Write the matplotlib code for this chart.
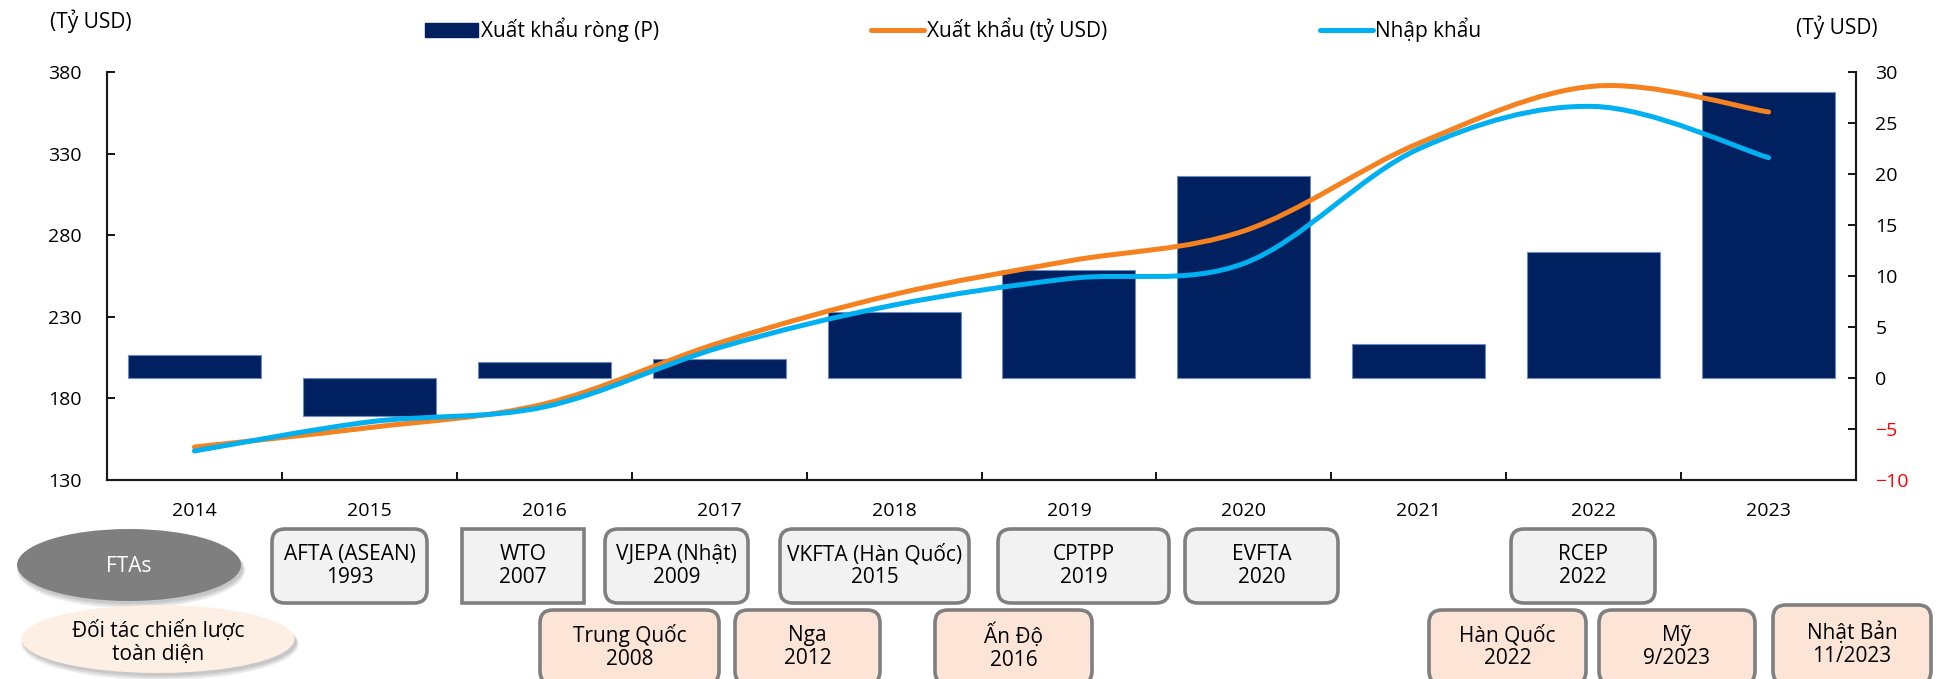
import numpy as np
import matplotlib
matplotlib.use("Agg")
import matplotlib.pyplot as plt
from matplotlib.path import Path
from matplotlib.patches import PathPatch, FancyBboxPatch, Ellipse, Patch
from matplotlib.lines import Line2D

plt.rcParams['font.family'] = ['Open Sans', 'DejaVu Sans']

# data
years = ['2014', '2015', '2016', '2017', '2018', '2019', '2020', '2021', '2022', '2023']
net_export = [2.3, -3.7, 1.6, 1.9, 6.5, 10.6, 19.8, 3.3, 12.4, 28.0]
export = [150.2, 162.1, 176.6, 214.0, 243.7, 264.2, 282.6, 336.3, 371.3, 355.5]
imports = [147.8, 165.6, 174.8, 211.1, 237.2, 253.4, 262.7, 332.9, 358.9, 327.5]

left_ticks = [130, 180, 230, 280, 330, 380]
right_ticks = [-10, -5, 0, 5, 10, 15, 20, 25, 30]

fta_labels = ['AFTA (ASEAN)\n1993', 'WTO\n2007', 'VJEPA (Nhật)\n2009', 'VKFTA (Hàn Quốc)\n2015',
              'CPTPP\n2019', 'EVFTA\n2020', 'RCEP\n2022']
partner_labels = ['Trung Quốc\n2008', 'Nga\n2012', 'Ấn Độ\n2016', 'Hàn Quốc\n2022',
                  'Mỹ\n9/2023', 'Nhật Bản\n11/2023']

navy = '#002060'
orange = '#F5821F'
cyan = '#00B0F0'

W, H = 1941, 679
fig = plt.figure(figsize=(W / 100, H / 100), dpi=100)

# axis box in pixels: x 107..1856, y 72..480
ax = fig.add_axes([107 / W, 1 - 480 / H, (1856 - 107) / W, (480 - 72) / H])
ax2 = ax.twinx()

x = np.arange(len(years))

# bars on the right scale (ax), lines on the left scale (ax2)
ax.bar(x, net_export, width=0.76, color=navy, edgecolor='#6F8BBF', linewidth=0.8, zorder=2)
ax.set_ylim(-10, 30)
ax.set_xlim(-0.5, len(years) - 0.5)


def smooth_path(xs, ys, t=1 / 6):
    pts = list(zip(xs, ys))
    verts = [pts[0]]
    codes = [Path.MOVETO]
    n = len(pts)
    for i in range(n - 1):
        p0 = pts[i - 1] if i > 0 else pts[i]
        p1 = pts[i]
        p2 = pts[i + 1]
        p3 = pts[i + 2] if i + 2 < n else pts[i + 1]
        c1 = (p1[0] + (p2[0] - p0[0]) * t, p1[1] + (p2[1] - p0[1]) * t)
        c2 = (p2[0] - (p3[0] - p1[0]) * t, p2[1] - (p3[1] - p1[1]) * t)
        verts += [c1, c2, p2]
        codes += [Path.CURVE4] * 3
    return Path(verts, codes)


for vals, col in [(export, orange), (imports, cyan)]:
    pp = PathPatch(smooth_path(x, vals), fill=False, edgecolor=col, linewidth=3.6,
                   capstyle='round', joinstyle='round', zorder=3)
    ax2.add_patch(pp)
ax2.set_ylim(130, 380)

# swap sides: left axis for lines, right axis for bars
ax.yaxis.tick_right()
ax2.yaxis.tick_left()
ax.set_yticks(right_ticks)
ax2.set_yticks(left_ticks)
ax.tick_params(axis='y', direction='in', length=6, width=1.3, pad=14, labelsize=14, colors='black')
ax2.tick_params(axis='y', direction='in', length=6, width=1.3, pad=18, labelsize=14)
for lab, v in zip(ax.get_yticklabels(), right_ticks):
    lab.set_color('red' if v < 0 else 'black')

ax.set_xticks(x)
ax.set_xticklabels(years)
ax.set_xticks(x[:-1] + 0.5, minor=True)
ax.tick_params(axis='x', which='major', length=0, pad=16, labelsize=14)
ax.tick_params(axis='x', which='minor', direction='in', length=6, width=1.3)
ax2.tick_params(axis='x', length=0)

for a in (ax, ax2):
    a.spines['top'].set_visible(False)
    for s in ('left', 'right', 'bottom'):
        a.spines[s].set_linewidth(1.5)
        a.spines[s].set_color('#1a1a1a')

fig.text(50 / W, 1 - 21 / H, '(Tỷ USD)', fontsize=15, va='center', ha='left')
fig.text(1796 / W, 1 - 27 / H, '(Tỷ USD)', fontsize=15, va='center', ha='left')

handles = [Patch(facecolor=navy, edgecolor=navy),
           Line2D([0], [0], color=orange, linewidth=3.6, solid_capstyle='round'),
           Line2D([0], [0], color=cyan, linewidth=3.6, solid_capstyle='round')]
fig.legend(handles, ['Xuất khẩu ròng (P)', 'Xuất khẩu (tỷ USD)', 'Nhập khẩu'],
           loc='center left', bbox_to_anchor=(425 / W, 1 - 30 / H), ncol=3, frameon=False,
           fontsize=15, handlelength=2.55, handleheight=0.65, handletextpad=0.12,
           columnspacing=10.2, borderpad=0, borderaxespad=0)

# bottom annotation area (pixel coordinates -> inches)
tr = fig.dpi_scale_trans


def px(xp, yp):
    return xp / 100, (H - yp) / 100


def box(x0, x1, y0, y1, label, face, rounded=True):
    bx, by = px(x0, y1)
    w, h = (x1 - x0) / 100, (y1 - y0) / 100
    style = 'round,pad=0,rounding_size=0.13' if rounded else 'square,pad=0'
    fig.patches.append(FancyBboxPatch((bx, by), w, h, boxstyle=style, transform=tr,
                                      facecolor=face, edgecolor='#7F7F7F', linewidth=2.6))
    cx, cy = px((x0 + x1) / 2, (y0 + y1) / 2)
    fig.text(cx, cy, label, transform=tr, ha='center', va='center', fontsize=15,
             linespacing=1.1)


fta_x = [(272, 427), (462, 584), (605, 748), (780, 969), (998, 1169), (1185, 1338), (1511, 1655)]
for (x0, x1), lab in zip(fta_x, fta_labels):
    box(x0, x1, 529, 603, lab, '#F2F2F2', rounded=(lab != 'WTO\n2007'))

partner_x = [(540, 719), (735, 880), (935, 1092), (1429, 1586), (1599, 1755), (1773, 1931)]
for i, ((x0, x1), lab) in enumerate(zip(partner_x, partner_labels)):
    y0 = 605 if i == len(partner_x) - 1 else 610
    box(x0, x1, y0, 684, lab, '#FCE4D6')

# ellipses with soft shadow: (centre x, centre y, width, height, fill, text, text colour, text y)
for (cxp, cyp, wp, hp, face, lab, tc, ty) in [
        (129, 565, 224, 72, '#7F7F7F', 'FTAs', 'white', 566),
        (158, 639, 273, 68, '#FDEFE4', 'Đối tác chiến lược\ntoàn diện', 'black', 643)]:
    cx, cy = px(cxp, cyp)
    for k, al in enumerate([0.08, 0.08, 0.08]):
        fig.patches.append(Ellipse((cx + 0.02, cy - 0.03 - 0.01 * k), wp / 100 + 0.02 * k, hp / 100 + 0.02 * k,
                                   transform=tr, facecolor='black', alpha=al, edgecolor='none'))
    fig.patches.append(Ellipse((cx, cy), wp / 100, hp / 100, transform=tr, facecolor=face,
                               edgecolor='none'))
    tx, tyy = px(cxp, ty)
    fig.text(tx, tyy, lab, transform=tr, ha='center', va='center', fontsize=15, color=tc,
             linespacing=1.1)

fig.savefig('out.png', dpi=100)
